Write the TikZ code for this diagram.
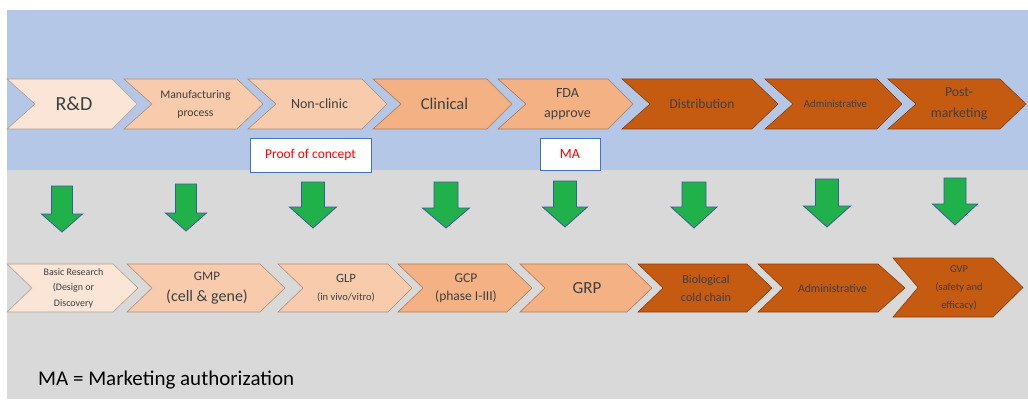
\documentclass[tikz,border=0pt]{standalone}
\usepackage{fontspec}
\setmainfont{Carlito}
\definecolor{bandblue}{HTML}{B4C7E7}
\definecolor{bandgray}{HTML}{D9D9D9}
\definecolor{peachA}{HTML}{FBE5D6}
\definecolor{peachB}{HTML}{F8CBAD}
\definecolor{peachC}{HTML}{F4B183}
\definecolor{rust}{HTML}{C55A11}
\definecolor{arrowgreen}{HTML}{21B14B}
\definecolor{arrowedge}{HTML}{3A5A9A}
\definecolor{boxedge}{HTML}{4472C4}
\definecolor{textgray}{HTML}{404040}

\begin{document}
\begin{tikzpicture}[x=1pt, y=-1pt,
    chev/.style={draw=#1!70!black, fill=#1, line width=0.6pt},
    lbl/.style={text=textgray, align=center, inner sep=0pt},
    greenarrow/.style={draw=arrowedge, fill=arrowgreen, line width=0.8pt},
    tagbox/.style={draw=boxedge, fill=white, line width=0.8pt, text=red, inner sep=0pt}]
  \useasboundingbox (0,0) rectangle (1028,401);
  % Sfondo
  \fill[bandblue] (7,10) rectangle (1028,170);
  \fill[bandgray] (7,170) rectangle (1028,399);
  % Fasi
  \foreach \xa/\xb/\xc/\col/\nm/\fs/\ls/\txt in {
      7/112/137/peachA/rd/20/22/{R\&D},
      124/237/263/peachB/mfg/11.7/18/{Manufacturing\\process},
      248/362/387/peachB/noncl/14/17/{Non-clinic},
      373/487/512/peachC/clin/16.5/20/{Clinical},
      498/608/633/peachC/fda/14/20/{FDA\\approve},
      622/752/778/rust/dist/13.5/17/{Distribution},
      765/877/902/rust/adm/10.7/13/{Administrative},
      888/1000/1026/rust/post/13.8/21/{Post-\\marketing}} {
    \draw[chev=\col] (\xa,79) -- (\xb,79) -- (\xc,104) -- (\xb,129) -- (\xa,129) -- (\xa+28,104) -- cycle;
    \node[lbl, font=\fontsize{\fs}{\ls}\selectfont] (\nm) at ({(\xa+\xc)/2+2},104) {\txt};
  }
  % Riquadri
  \node[tagbox, minimum width=121pt, minimum height=34pt, font=\fontsize{13.5}{16}\selectfont] (poc) at (310.5,155) {Proof of concept};
  \node[tagbox, minimum width=60pt, minimum height=32pt, font=\fontsize{14}{16}\selectfont] (ma) at (570,154) {MA};
  % Frecce verdi
  \foreach \x/\ya/\hb/\tp/\sw/\hw in {62/186/214/232/10.5/20.5, 186/184/213/231/10.5/20.5,
      313/182/207/228/11.5/23.5, 446/182/208/228/12/23.5, 565/181/207/227/11.5/22.5,
      694/182/207/228/12/23, 827/179/206/227/11.5/23.5, 955/178/204/225/11/22.5}
    \draw[greenarrow] (\x-\sw,\ya) -- (\x+\sw,\ya) -- (\x+\sw,\hb) -- (\x+\hw,\hb) -- (\x,\tp)
      -- (\x-\hw,\hb) -- (\x-\sw,\hb) -- cycle;
  % Norme
  \foreach \xa/\xb/\xc/\ya/\yb/\col/\nm/\fs/\ls/\txt in {
      7/113/138/264/312/peachA/basic/10/15.5/{Basic Research\\(Design or\\Discovery},
      127/260/285/264/312/peachB/gmp/13/21/{GMP\\{\fontsize{16}{20}\selectfont (cell \& gene)}},
      278/388/412/264/312/peachB/glp/12.7/18/{GLP\\{\fontsize{10.5}{12}\selectfont (in vivo/vitro)}},
      398/507/532/264/312/peachC/gcp/13.5/18/{GCP\\(phase I-III)},
      520/627/652/264/312/peachC/grp/17/20/{GRP},
      638/747/772/264/312/rust/cold/12.2/18/{Biological\\cold chain},
      758/878/905/264/312/rust/adm2/11.7/14/{Administrative},
      893/993/1023/258/317/rust/gvp/10.5/18/{GVP\\(safety and\\efficacy)}} {
    \draw[chev=\col] (\xa,\ya) -- (\xb,\ya) -- (\xc,{(\ya+\yb)/2}) -- (\xb,\yb) -- (\xa,\yb)
      -- (\xa+25,{(\ya+\yb)/2}) -- cycle;
    \node[lbl, font=\fontsize{\fs}{\ls}\selectfont] (\nm) at ({(\xa+\xc)/2+1},{(\ya+\yb)/2}) {\txt};
  }
  % Legenda
  \node[anchor=base west, inner sep=0pt, font=\fontsize{21}{24}\selectfont] (legend) at (38,385) {MA = Marketing authorization};
\end{tikzpicture}
\end{document}
